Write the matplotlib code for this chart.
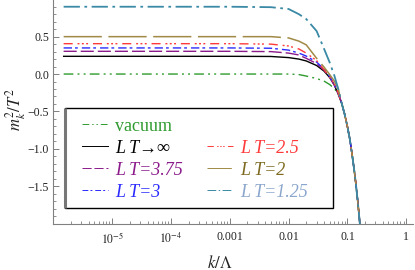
import matplotlib
matplotlib.use("Agg")
import matplotlib.pyplot as plt
from matplotlib.lines import Line2D
from matplotlib.patches import Rectangle
from matplotlib.ticker import FixedLocator, FixedFormatter, LogLocator, NullFormatter

plt.rcParams['mathtext.fontset'] = 'stix'

# ---- data ----
k = [1.5e-6, 1e-3, 5e-3, 0.01, 0.015, 0.02, 0.03, 0.04, 0.05, 0.06, 0.07,
     0.08, 0.09, 0.1, 0.11, 0.12, 0.13, 0.14, 0.15, 0.16, 0.17]
tail = [-0.39, -0.54, -0.70, -0.87, -1.07, -1.27, -1.48, -1.70, -1.93, -2.17]

vacuum = [0.0, 0.0, 0.0, 0.0, -0.007, -0.027, -0.06, -0.094, -0.14, -0.194, -0.26] + tail
lt_inf = [0.237, 0.237, 0.235, 0.22, 0.20, 0.175, 0.114, 0.04, -0.047, -0.147, -0.27] + tail
lt_375 = [0.304, 0.304, 0.30, 0.28, 0.255, 0.21, 0.14, 0.054, -0.04, -0.147, -0.26] + tail
lt_3 = [0.349, 0.349, 0.345, 0.32, 0.28, 0.24, 0.16, 0.067, -0.034, -0.14, -0.255] + tail
lt_25 = [0.406, 0.406, 0.40, 0.375, 0.335, 0.28, 0.18, 0.06, -0.04, -0.134, -0.255] + tail
lt_2 = [0.50, 0.50, 0.50, 0.483, 0.44, 0.39, 0.21, 0.094, -0.007, -0.094, -0.20] + tail
lt_125 = [0.90, 0.90, 0.894, 0.87, 0.80, 0.735, 0.575, 0.34, 0.155, -0.02, -0.20] + tail

labels = ['vacuum', 'L T\u2192\u221e', 'L T=3.75', 'L T=3', 'L T=2.5', 'L T=2', 'L T=1.25']
series = [vacuum, lt_inf, lt_375, lt_3, lt_25, lt_2, lt_125]
colors = ['#2e9a2e', '#000000', '#8b1a8b', '#2b2bff', '#ff3a3a', '#a08a45', '#3a8aa6']
text_colors = ['#2e9a2e', '#000000', '#8b1a8b', '#2b2bff', '#ff3a3a', '#7d6a20', '#8aa6cc']
dashes = [(7, 3, 1.4, 3, 1.4, 3), None, (9.4, 2.9), (6, 2.2, 2, 2.9),
          (6.5, 3.5, 1.4, 1.7, 1.4, 1.7, 1.4, 3.5), (25, 4.3), (9, 2.5, 1.5, 2.5)]
widths = [1.0, 1.0, 1.0, 1.0, 1.0, 1.1, 1.3]

x_ticks = [1e-5, 1e-4, 1e-3, 1e-2, 1e-1, 1]
x_ticklabels = [r'$10^{-5}$', r'$10^{-4}$', '0.001', '0.01', '0.1', '1']
y_ticks = [-1.5, -1.0, -0.5, 0.0, 0.5]
y_ticklabels = ['\u22121.5', '\u22121.0', '\u22120.5', '0.0', '0.5']

# ---- figure ----
fig = plt.figure(figsize=(4.15, 2.7), dpi=100)
ax = fig.add_axes([0.1284, 0.169, 0.867, 0.831])

lines = []
for ser, c, d, w, lab in zip(series, colors, dashes, widths, labels):
    ln, = ax.plot(k, ser, color=c, lw=w, label=lab)
    if d is not None:
        ln.set_dashes(d)
    lines.append(ln)

ax.set_xscale('log')
ax.set_xlim(1e-6, 1.31)
ax.set_ylim(-2.01, 0.99)

for s in ['top', 'right']:
    ax.spines[s].set_visible(False)
for s in ['left', 'bottom']:
    ax.spines[s].set_color('#808080')
    ax.spines[s].set_linewidth(0.8)

ax.xaxis.set_major_locator(FixedLocator(x_ticks))
ax.xaxis.set_major_formatter(FixedFormatter(x_ticklabels))
ax.xaxis.set_minor_locator(LogLocator(base=10, subs=range(2, 10), numticks=20))
ax.xaxis.set_minor_formatter(NullFormatter())
ax.yaxis.set_major_locator(FixedLocator(y_ticks))
ax.yaxis.set_major_formatter(FixedFormatter(y_ticklabels))
ax.yaxis.set_minor_locator(FixedLocator([v / 10 for v in range(-20, 10)]))

ax.tick_params(which='both', direction='in', color='#808080', labelcolor='#222222')
ax.tick_params(which='major', length=4, width=0.7)
ax.tick_params(which='minor', length=2, width=0.6)
ax.tick_params(axis='x', pad=5)
ax.tick_params(axis='y', pad=3)
for t in ax.get_xticklabels():
    t.set_family('Liberation Serif'); t.set_fontsize(8.5)
for t in ax.get_yticklabels():
    t.set_family('Liberation Serif'); t.set_fontsize(8.5)

ax.set_ylabel(r'$m_k^2/T^2$', fontsize=12, color='#222222')
ax.yaxis.set_label_coords(-0.07, 0.51)
ax.set_xlabel(r'$k/\Lambda$', fontsize=12, color='#222222')
ax.xaxis.set_label_coords(0.462, -0.13)

# ---- legend: frame drawn as a rectangle, content placed inside ----
frame = Rectangle((0.0325, 0.0731), 0.745, 0.4456, transform=ax.transAxes,
                  facecolor='white', edgecolor='black', linewidth=1.0, zorder=4)
ax.add_patch(frame)
shadow = Rectangle((0.0325, 0.0731), 0.0, 0.4456, transform=ax.transAxes,
                   facecolor='none', edgecolor='#777777', linewidth=2.2, zorder=4)
ax.add_patch(shadow)

blank = Line2D([], [], color='none')
handles = [lines[0], lines[1], lines[2], lines[3], blank, lines[4], lines[5], lines[6]]
leg_labels = [labels[0], labels[1], labels[2], labels[3], ' ', labels[4], labels[5], labels[6]]
leg_colors = [text_colors[0], text_colors[1], text_colors[2], text_colors[3], 'none',
              text_colors[4], text_colors[5], text_colors[6]]
leg = ax.legend(handles, leg_labels, ncol=2, loc='upper left',
                bbox_to_anchor=(0.0798, 0.476), borderaxespad=0, borderpad=0,
                frameon=False, handlelength=1.44, handletextpad=0.39,
                labelspacing=0.28, columnspacing=1.35,
                prop={'family': ['Liberation Serif', 'DejaVu Serif'], 'size': 13})
leg.set_zorder(5)
for i, (t, c) in enumerate(zip(leg.get_texts(), leg_colors)):
    t.set_color(c)
    if i != 0:
        t.set_fontstyle('italic')
for h in leg.legend_handles:
    h.set_linewidth(0.7)

fig.savefig('out.png', dpi=100)
